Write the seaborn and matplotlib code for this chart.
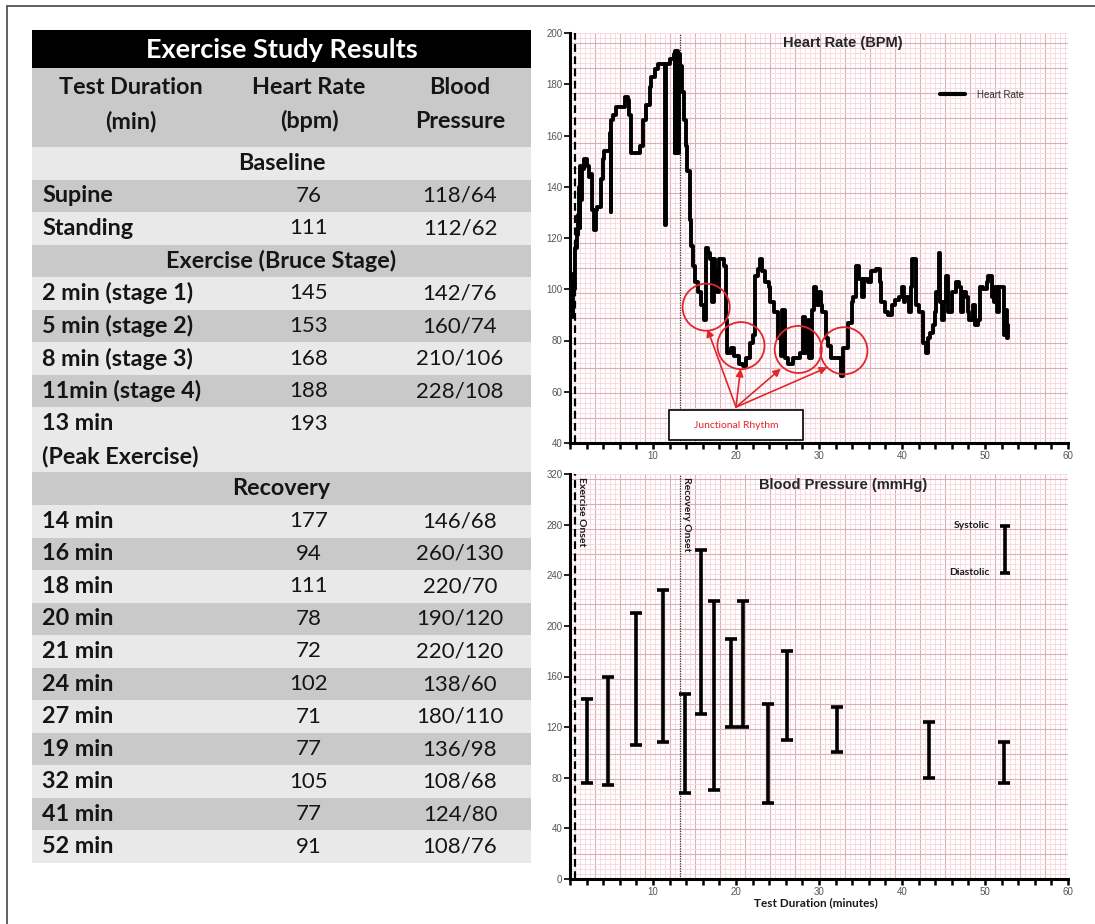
import numpy as np
import pandas as pd
import seaborn as sns
import matplotlib.pyplot as plt
from matplotlib.ticker import MultipleLocator, FixedLocator
from matplotlib.lines import Line2D
from matplotlib.patches import Rectangle

# ---- table data
duration = ["Supine", "Standing",
            "2 min (stage 1)", "5 min (stage 2)", "8 min (stage 3)", "11min (stage 4)",
            "13 min\n(Peak Exercise)",
            "14 min", "16 min", "18 min", "20 min", "21 min", "24 min", "27 min",
            "19 min", "32 min", "41 min", "52 min"]
heart_rate = [76, 111, 145, 153, 168, 188, 193, 177, 94, 111, 78, 72, 102, 71, 77, 105, 77, 91]
blood_pressure = ["118/64", "112/62", "142/76", "160/74", "210/106", "228/108", "",
                  "146/68", "260/130", "220/70", "190/120", "220/120", "138/60", "180/110",
                  "136/98", "108/68", "124/80", "108/76"]
section_names = ["Baseline", "Exercise (Bruce Stage)", "Recovery"]
section_before = [0, 2, 7]
header_cols = [["Test Duration", "(min)"], ["Heart Rate", "(bpm)"], ["Blood", "Pressure"]]

# ---- heart rate trace (minutes, bpm)
hr_time = [0.0, 0.2, 0.4, 0.6, 0.8, 1.0, 1.1, 1.2, 1.25, 1.35, 1.45, 1.65, 2.1, 2.3, 2.5, 2.7,
           2.9, 3.1, 3.3, 3.75, 3.95, 4.15, 4.6, 4.8, 4.9, 4.95, 5.2, 5.6, 6.45, 6.65, 7.0,
           7.15, 7.4, 7.7, 8.1, 8.4, 8.75, 9.15, 9.6, 9.8, 10.2, 10.6, 11.4, 11.45, 11.55,
           11.65, 12.1, 12.5, 12.6, 12.7, 12.8, 12.9, 13.0, 13.1, 13.3, 13.55, 13.75, 13.95,
           14.15, 14.4, 14.6, 14.8, 15.0, 15.4, 15.8, 16.15, 16.35, 16.65, 16.9, 17.1, 17.3,
           17.5, 17.7, 17.9, 18.3, 18.55, 18.75, 18.95, 19.4, 19.8, 20.4, 20.85, 21.25, 21.65,
           22.1, 22.3, 22.7, 22.9, 23.1, 23.55, 23.95, 24.15, 24.6, 25.0, 25.4, 25.6, 25.85,
           26.25, 26.9, 27.3, 27.7, 28.1, 28.35, 28.65, 28.85, 29.15, 29.4, 29.6, 29.8, 30.0,
           30.2, 30.4, 30.75, 30.85, 31.05, 31.45, 32.1, 32.5, 32.7, 32.9, 33.35, 33.55, 33.95,
           34.15, 34.5, 34.8, 35.2, 35.4, 35.85, 36.25, 36.65, 36.9, 37.3, 37.5, 37.9, 38.35,
           38.75, 39.15, 39.6, 40.0, 40.2, 40.4, 40.85, 41.05, 41.25, 41.65, 42.1, 42.5, 42.85,
           43.1, 43.35, 43.75, 43.95, 44.15, 44.4, 44.6, 44.8, 45.0, 45.35, 45.6, 46.05, 46.45,
           46.9, 47.1, 47.3, 47.7, 47.9, 48.1, 48.55, 48.75, 49.15, 49.4, 49.8, 50.2, 50.4,
           50.85, 51.05, 51.25, 51.45, 51.65, 52.1, 52.3, 52.5, 52.7, 52.8]
hr_bpm = [106, 89, 100, 116, 121, 129, 140, 124, 148, 135, 147, 151, 148, 144, 145, 131,
          123, 131, 132, 143, 151, 154, 154, 161, 130, 166, 168, 171, 171, 175, 174,
          168, 153, 153, 153, 156, 166, 172, 179, 183, 186, 188, 188, 125, 188,
          188, 190, 192, 153, 193, 153, 193, 153, 192, 187, 177, 166, 156,
          146, 127, 117, 109, 103, 99, 94, 88, 116, 114, 112, 95, 112,
          107, 99, 112, 112, 109, 88, 75, 77, 74, 71, 70, 73, 79,
          82, 105, 108, 112, 107, 103, 101, 95, 91, 81, 74, 92, 73,
          71, 73, 73, 75, 89, 75, 88, 73, 92, 101, 97, 94, 99,
          94, 91, 91, 81, 78, 73, 73, 73, 66, 77, 77, 87, 95,
          97, 109, 104, 97, 104, 103, 107, 107, 108, 103, 95, 91, 90,
          94, 96, 97, 101, 95, 97, 91, 101, 112, 94, 91, 79, 75,
          81, 83, 86, 91, 99, 114, 95, 88, 95, 105, 91, 99, 103,
          101, 91, 99, 97, 91, 88, 94, 86, 88, 101, 100, 103, 105,
          97, 95, 101, 91, 101, 101, 82, 92, 81, 86]

# junctional rhythm marks
circle_t = [16.4, 20.6, 27.5, 33.0]
circle_bpm = [93, 78, 76.5, 76]
arrow_tip_t = [16.55, 20.55, 25.4, 31.0]
arrow_tip_bpm = [84.5, 69, 69, 69.5]

# ---- blood pressure bars as plotted
bp_time = [2.0, 4.6, 8.0, 11.2, 13.8, 15.8, 17.4, 19.4, 20.8, 23.8, 26.2, 32.2, 43.2, 52.3]
systolic = [142, 160, 210, 228, 146, 260, 220, 190, 220, 138, 180, 136, 124, 108]
diastolic = [76, 74, 106, 108, 68, 130, 70, 120, 120, 60, 110, 100, 80, 76]

x_ticks = [10, 20, 30, 40, 50, 60]
exercise_onset = 0.6
recovery_onset = 13.3

sns.set_style("white")
plt.rcParams['font.family'] = ['Liberation Sans', 'DejaVu Sans']

W, H = 1095, 924
fig = plt.figure(figsize=(W / 100, H / 100), dpi=100)


def rect(l, t, r, b):
    return [l / W, 1 - b / H, (r - l) / W, (b - t) / H]


# outer frame
fig.add_artist(Line2D([7 / W, 7 / W], [0, 1 - 6 / H], transform=fig.transFigure, color='#555555', lw=1.3))
fig.add_artist(Line2D([7 / W, 1], [1 - 6 / H, 1 - 6 / H], transform=fig.transFigure, color='#555555', lw=1.3))

# ---- table
tx0, ty0, tx1, ty1 = 32, 30, 531, 863
tw, th = tx1 - tx0, ty1 - ty0
axt = fig.add_axes(rect(tx0, ty0, tx1, ty1))
axt.set_xlim(0, tw)
axt.set_ylim(th, 0)
axt.axis('off')

dark, light = '#c9c9c9', '#e9e9e9'
tfont = dict(family=['Lato', 'DejaVu Sans'], color='#151515')
col_x = [99, 277, 428]
label_x = 10
fs_lab = 16.8
fs_val = 16

axt.axhspan(0, 38, color='black', lw=0)
axt.text(tw / 2, 20, "Exercise Study Results", ha='center', va='center', fontsize=19.5,
         fontweight='bold', family=['Lato', 'DejaVu Sans'], color='white')
axt.axhspan(38, 117, color=dark, lw=0)
for cx, lines in zip(col_x, header_cols):
    axt.text(cx, 57, lines[0], ha='center', va='center', fontsize=fs_lab, fontweight='bold', **tfont)
    axt.text(cx, 91, lines[1], ha='center', va='center', fontsize=fs_lab, fontweight='bold', **tfont)

rh = (th - 117) / 22.0
y = 117
shade = 0
for i, lab in enumerate(duration):
    if i in section_before:
        name = section_names[section_before.index(i)]
        axt.axhspan(y, y + rh, color=[light, dark][shade % 2], lw=0)
        axt.text(tw / 2, y + rh / 2, name, ha='center', va='center', fontsize=fs_lab,
                 fontweight='bold', **tfont)
        y += rh
        shade += 1
    parts = lab.split("\n")
    h = rh * len(parts)
    axt.axhspan(y, y + h, color=[light, dark][shade % 2], lw=0)
    for k, p in enumerate(parts):
        axt.text(label_x, y + rh * (k + 0.5), p, ha='left', va='center', fontsize=fs_lab,
                 fontweight='bold', **tfont)
    axt.text(col_x[1], y + rh / 2, str(heart_rate[i]), ha='center', va='center', fontsize=fs_val, **tfont)
    axt.text(col_x[2], y + rh / 2, blood_pressure[i], ha='center', va='center', fontsize=fs_val, **tfont)
    y += h
    shade += 1


# ---- charts
def ecg_paper(r):
    bg = fig.add_axes(r, zorder=0)
    wpx = r[2] * W
    hpx = r[3] * H
    bg.set_xlim(0, wpx)
    bg.set_ylim(0, hpx)
    for axis in (bg.xaxis, bg.yaxis):
        axis.set_major_locator(MultipleLocator(25))
        axis.set_minor_locator(MultipleLocator(5))
    bg.grid(which='minor', color='#f7d6dc', lw=0.6)
    bg.grid(which='major', color='#dcaeb7', lw=0.8)
    bg.tick_params(which='both', length=0, labelbottom=False, labelleft=False)
    for s in bg.spines.values():
        s.set_visible(False)
    bg.set_facecolor('white')
    ax = fig.add_axes(r, zorder=1)
    ax.patch.set_alpha(0)
    return ax


def style_axis(ax, ystep):
    ax.set_xlim(0, 60)
    for s in ['top', 'right']:
        ax.spines[s].set_visible(False)
    for s in ['left', 'bottom']:
        ax.spines[s].set_linewidth(2.2)
        ax.spines[s].set_color('black')
    ax.xaxis.set_major_locator(FixedLocator(x_ticks))
    ax.xaxis.set_minor_locator(MultipleLocator(2))
    ax.yaxis.set_major_locator(MultipleLocator(ystep))
    ax.tick_params(axis='x', which='both', direction='out', length=4, width=1.8,
                   color='black', labelsize=7, labelcolor='#555555', pad=1.5, bottom=True)
    ax.tick_params(axis='y', which='major', direction='out', length=4, width=1.2,
                   color='black', labelsize=7, labelcolor='#555555', pad=1.5, left=True)
    ax.axvline(exercise_onset, color='black', lw=1.6, ls=(0, (3.5, 2)), zorder=2)
    ax.axvline(recovery_onset, color='#333333', lw=0.9, ls=(0, (1, 1)), zorder=2)


# heart rate
ax1 = ecg_paper(rect(570, 33, 1068, 443))
sns.lineplot(x=hr_time, y=hr_bpm, ax=ax1, color='black', lw=2.8, drawstyle='steps-post',
             estimator=None, sort=False, label='Heart Rate', zorder=3)
ax1.set_ylim(40, 200)
style_axis(ax1, 20)
leg = ax1.legend(loc='center left', bbox_to_anchor=(0.725, 0.85), frameon=False,
                 fontsize=7, handlelength=2.6, handletextpad=1.2)
for t in leg.get_texts():
    t.set_color('#333333')
for l in leg.get_lines():
    l.set_linewidth(3)
ax1.text(32.9, 196, "Heart Rate (BPM)", ha='center', va='center', fontsize=10.5, fontweight='bold')

red = '#e3262d'
ax1.scatter(circle_t, circle_bpm, s=1150, facecolors='none', edgecolors=red, linewidths=1.3, zorder=4)
for xt, yt in zip(arrow_tip_t, arrow_tip_bpm):
    ax1.annotate('', xy=(xt, yt), xytext=(20.0, 54), zorder=4,
                 arrowprops=dict(arrowstyle='-|>', color=red, lw=1.2, mutation_scale=11,
                                 shrinkA=0, shrinkB=0))
ax1.add_patch(Rectangle((11.9, 41.3), 16.2, 11.7, facecolor='white', edgecolor='black', lw=1.2, zorder=5))
ax1.text(20.0, 47, "Junctional Rhythm", ha='center', va='center', fontsize=7.5, color=red,
         family=['Lato', 'DejaVu Sans'], zorder=6)

# blood pressure
ax2 = ecg_paper(rect(570, 474, 1068, 879))
bp_err = [np.zeros(len(bp_time)), np.array(systolic) - np.array(diastolic)]
ax2.errorbar(bp_time, diastolic, yerr=bp_err, fmt='none', ecolor='black', elinewidth=2.6,
             capsize=4, capthick=2.6, zorder=3)
ax2.errorbar([52.4], [242], yerr=[[0], [37]], fmt='none', ecolor='black', elinewidth=2.6,
             capsize=3.5, capthick=2.6, zorder=3)
ax2.set_ylim(0, 320)
style_axis(ax2, 40)
bold_small = dict(family=['Lato', 'DejaVu Sans'], fontweight='bold', fontsize=7.5, color='#1a1a1a')
ax2.text(50.6, 279, "Systolic", ha='right', va='center', **bold_small)
ax2.text(50.6, 242, "Diastolic", ha='right', va='center', **bold_small)
ax2.text(1.35, 318, "Exercise Onset", rotation=270, ha='center', va='top', **bold_small)
ax2.text(14.05, 318, "Recovery Onset", rotation=270, ha='center', va='top', **bold_small)
ax2.text(32.9, 311, "Blood Pressure (mmHg)", ha='center', va='center', fontsize=10.5, fontweight='bold')
ax2.set_xlabel("Test Duration (minutes)", fontsize=8.5, fontweight='bold',
               family=['Lato', 'DejaVu Sans'], color='#1a1a1a', va='center')
ax2.xaxis.set_label_coords(29.6 / 60, -0.058)

fig.savefig('out.png', dpi=100)
